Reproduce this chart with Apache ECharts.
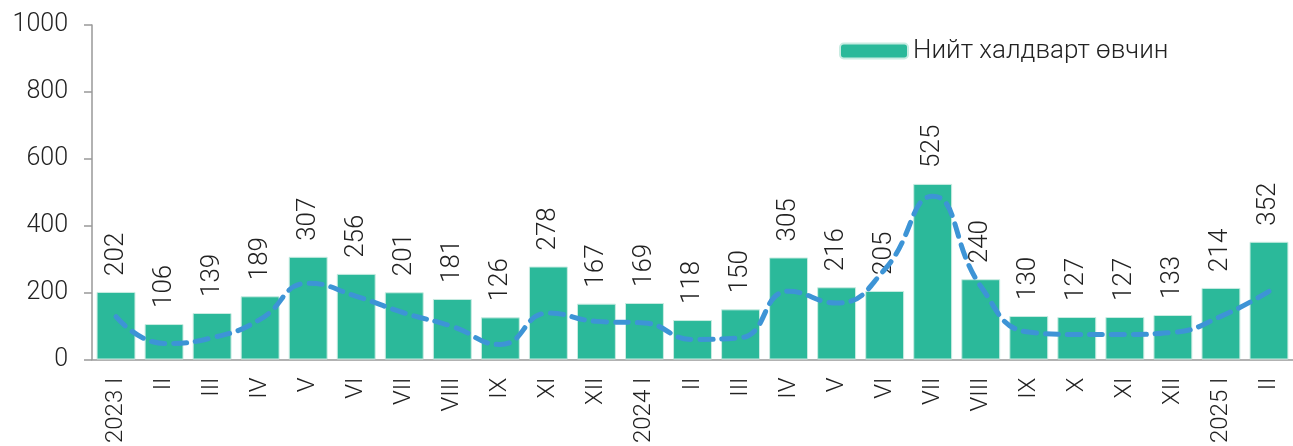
<!DOCTYPE html>
<html>
<head>
<meta charset="utf-8">
<script src="https://cdn.jsdelivr.net/npm/echarts@6/dist/echarts.min.js"></script>
<style>
  html, body { margin: 0; padding: 0; background: #fff; }
  #chart { width: 1293px; height: 446px; }
</style>
</head>
<body>
<div id="chart"></div>
<script>
// categories (months)
var months = ['2023 I', 'II', 'III', 'IV', 'V', 'VI', 'VII', 'VIII', 'IX', 'XI', 'XII',
  '2024 I', 'II', 'III', 'IV', 'V', 'VI', 'VII', 'VIII', 'IX', 'X', 'XI', 'XII',
  '2025 I', 'II'];
// total infectious diseases
var totalCases = [202, 106, 139, 189, 307, 256, 201, 181, 126, 278, 167,
  169, 118, 150, 305, 216, 205, 525, 240, 130, 127, 127, 133,
  214, 352];
// dashed trend line
var trendLine = [128, 48, 65, 120, 228, 189, 139, 99, 45, 139, 114,
  109, 60, 65, 204, 169, 269, 488, 219, 82, 75, 75, 81,
  129, 204];
var yTicks = [0, 200, 400, 600, 800, 1000];

var fontFamily = 'Roboto, "Noto Sans", sans-serif';
var chart = echarts.init(document.getElementById('chart'));

chart.setOption({
  animation: false,
  textStyle: { fontFamily: fontFamily },
  grid: { left: 92, right: 0, top: 25, bottom: 86 },
  legend: {
    data: ['Нийт халдварт өвчин'],
    left: 834,
    top: 33,
    itemWidth: 68,
    itemHeight: 15,
    itemGap: 8,
    textStyle: { fontSize: 26, color: '#222', fontWeight: 300, fontFamily: fontFamily }
  },
  xAxis: {
    type: 'category',
    data: months,
    axisLine: { lineStyle: { color: '#999', width: 1.5 } },
    axisTick: { length: 8, lineStyle: { color: '#999', width: 1.5 } },
    axisLabel: {
      rotate: 90,
      interval: 0,
      fontSize: 24,
      color: '#222',
      fontWeight: 300,
      margin: 18
    }
  },
  yAxis: {
    type: 'value',
    min: yTicks[0],
    max: yTicks[yTicks.length - 1],
    interval: 200,
    splitLine: { show: false },
    axisLine: { show: true, lineStyle: { color: '#999', width: 1.5 } },
    axisTick: { show: true, length: 8, lineStyle: { color: '#999', width: 1.5 } },
    axisLabel: {
      fontSize: 25,
      color: '#222',
      fontWeight: 300,
      margin: 24,
      formatter: function (v) { return String(v); }
    }
  },
  series: [
    {
      name: 'Нийт халдварт өвчин',
      type: 'bar',
      data: totalCases,
      barCategoryGap: '19%',
      itemStyle: { color: '#2bb99a', borderColor: '#c9ece2', borderWidth: 1 },
      label: {
        show: true,
        position: 'top',
        rotate: 90,
        align: 'left',
        verticalAlign: 'middle',
        distance: 16,
        fontSize: 26,
        color: '#222',
        fontWeight: 300
      }
    },
    {
      name: 'trend',
      type: 'line',
      data: trendLine,
      smooth: true,
      symbol: 'none',
      lineStyle: { color: '#3d94d6', width: 5, type: [13, 9], cap: 'round' },
      z: 5
    }
  ]
});
</script>
</body>
</html>
